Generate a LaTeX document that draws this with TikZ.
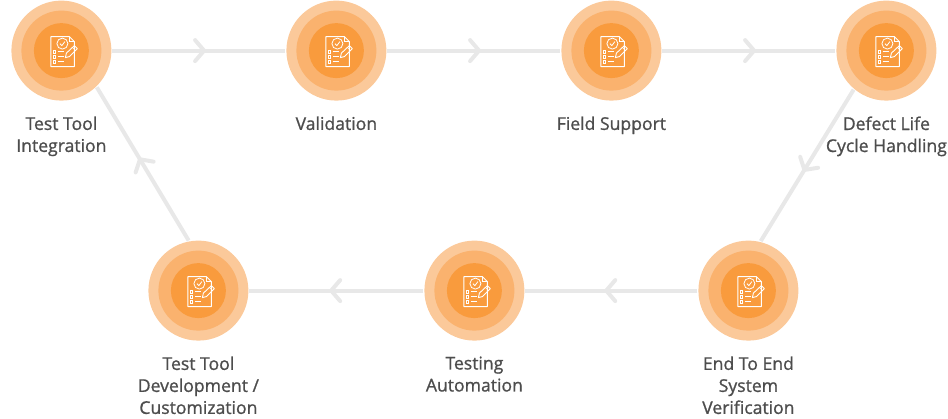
\documentclass[tikz,border=0pt]{standalone}
\usepackage{fontspec}
\setmainfont{Open Sans}[FakeBold=1]
\usepackage{xcolor}
\usetikzlibrary{decorations.markings}

\definecolor{ringout}{HTML}{FBC99A}
\definecolor{ringmid}{HTML}{FAB26E}
\definecolor{ringin}{HTML}{F99B3D}
\definecolor{flowgray}{HTML}{E8E8E8}
\definecolor{captiongray}{HTML}{4D4D4D}

\tikzset{
  stage/.style={circle, fill=ringout, minimum size=100pt, inner sep=0pt, outer sep=1pt},
  caption/.style={anchor=north, align=center, text=captiongray, font=\fontsize{17.6}{22}\selectfont},
  flowline/.style={flowgray, line width=4pt, postaction={decorate}, decoration={markings,
      mark=at position 0.53 with {\draw[flowgray, line width=4pt, line cap=round, line join=round] (-9,-10.5) -- (0,0) -- (-9,10.5);}}},
  docicon/.pic={
      % sheet with folded corner
      \draw[white, line width=0.9pt, line join=round] (-5,-14) -- (-10.5,-14) -- (-10.5,16) -- (13,16) -- (13,-9) -- (8,-14) -- (-5,-14);
      \draw[white, line width=0.7pt] (8,-14) -- (8,-9) -- (13,-9);
      % seal
      \draw[white, line width=0.8pt] (1,-7) circle (5.5);
      \draw[white, line width=0.8pt] (-1.5,-7) -- (0.5,-5) -- (3.5,-9);
      % list
      \foreach \rowy in {1,6,11}{
        \draw[white, line width=0.8pt] (-8.5,\rowy-1.5) rectangle (-6,\rowy+1.5);
        \draw[white, line width=1pt] (-3.5,\rowy) -- (3,\rowy);
      }
      % pencil
      \draw[white, line width=0.9pt, line join=round] (4,7) -- (5,2.5) -- (13,-5) -- (16,-2) -- (8,6) -- cycle;
      \draw[white, line width=0.7pt] (11,-3.2) -- (14,-0.2);
  }
}

\begin{document}
\begin{tikzpicture}[x=1pt, y=-1pt]
    \useasboundingbox (0,0) rectangle (948,418);

    % Top row
    \node[stage] (integration) at (61.4,50.6) {};
    \node[stage] (validation) at (336.4,50.6) {};
    \node[stage] (support) at (611.4,50.6) {};
    \node[stage] (defect) at (886.4,50.6) {};

    % Bottom row
    \node[stage] (development) at (198.4,290.6) {};
    \node[stage] (automation) at (474.4,290.6) {};
    \node[stage] (verification) at (748.4,290.6) {};

    % Inner rings and icons
    \foreach \stagename in {integration,validation,support,defect,development,automation,verification}{
        \fill[ringmid] (\stagename.center) circle (40);
        \fill[ringin] (\stagename.center) circle (27.5);
        \pic at (\stagename.center) {docicon};
    }

    % Flow between stages
    \draw[flowline] (integration) -- (validation);
    \draw[flowline] (validation) -- (support);
    \draw[flowline] (support) -- (defect);
    \draw[flowline] (defect.-130) -- (verification.76);
    \draw[flowline] (verification) -- (automation);
    \draw[flowline] (automation) -- (development);
    \draw[flowline] (development.101) -- (integration.-46);

    % Captions
    \node[caption] (integrationtext) at (61.4,113) {Test Tool\\Integration};
    \node[caption] (validationtext) at (336.4,113) {Validation};
    \node[caption] (supporttext) at (611.4,113) {Field Support};
    \node[caption] (defecttext) at (886.4,113) {Defect Life\\Cycle Handling};
    \node[caption] (developmenttext) at (198.4,353) {Test Tool\\Development /\\Customization};
    \node[caption] (automationtext) at (474.4,353) {Testing\\Automation};
    \node[caption] (verificationtext) at (748.4,353) {End To End\\System\\Verification};
\end{tikzpicture}
\end{document}
